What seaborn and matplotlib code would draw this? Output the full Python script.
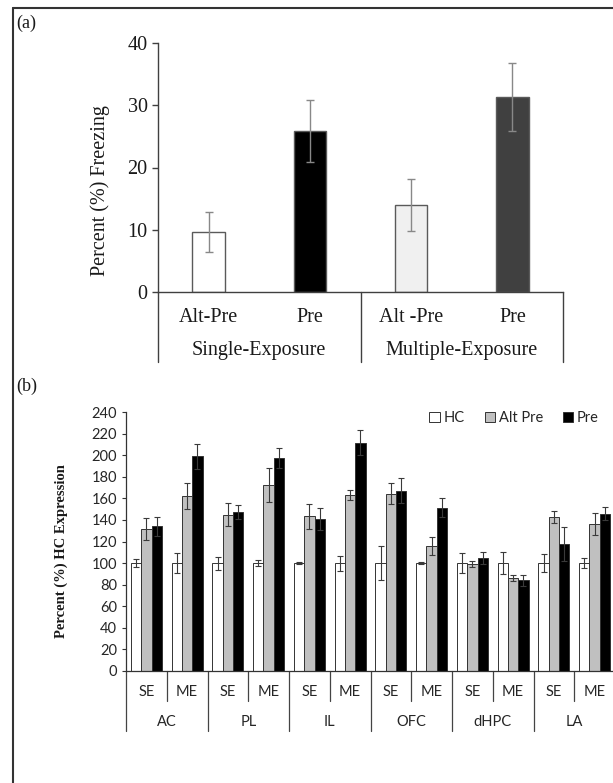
import numpy as np
import pandas as pd
import seaborn as sns
import matplotlib.pyplot as plt
from matplotlib.lines import Line2D
from matplotlib.transforms import blended_transform_factory

# ---- panel (a): freezing ----
a_keys = ["SE Alt-Pre", "SE Pre", "ME Alt-Pre", "ME Pre"]
a_ticklabels = ["Alt-Pre", "Pre", "Alt -Pre", "Pre"]
a_groups = ["Single-Exposure", "Multiple-Exposure"]
a_values = [9.6, 25.9, 14.0, 31.3]
a_err = [3.2, 5.0, 4.2, 5.5]
a_colors = ["#ffffff", "#000000", "#f0f0f0", "#404040"]

# ---- panel (b): c-fos expression ----
regions = ["AC", "PL", "IL", "OFC", "dHPC", "LA"]
exposures = ["SE", "ME"]
conditions = ["HC", "Alt Pre", "Pre"]
hc_vals = [100, 100, 100, 100, 100, 100, 100, 100, 100, 100, 100, 100]
hc_err = [4, 9.5, 6, 3, 1, 7, 15.5, 1, 9, 10, 8, 5]
alt_vals = [131.5, 162, 145, 172.5, 143.4, 163, 164.4, 116, 99, 86, 142.7, 136]
alt_err = [10.5, 12, 10.5, 15.5, 11.5, 5, 9.5, 8.5, 2.5, 3, 6, 10]
pre_vals = [134, 199, 147.5, 197.5, 141, 211.5, 167, 151.4, 105, 84, 117.6, 145.8]
pre_err = [8.5, 11.5, 6.5, 9, 10.5, 11.5, 11.5, 8.5, 5.5, 5, 15.5, 6]
b_colors = ["#ffffff", "#c0c0c0", "#000000"]

SANS = ["Lato", "DejaVu Sans"]


def main():
    sns.set_style("white")
    plt.rcParams["font.family"] = ["Liberation Serif", "DejaVu Serif"]

    W, H = 613, 783
    fig = plt.figure(figsize=(W / 100, H / 100), dpi=100)

    # outer frame (left and top border of the original composite)
    fig.add_artist(Line2D([13 / W, 13 / W], [0, 1 - 8 / H], color="#333333", lw=1.5))
    fig.add_artist(Line2D([13 / W, 1], [1 - 8 / H, 1 - 8 / H], color="#333333", lw=1.5))
    fig.text(16 / W, 1 - 23 / H, "(a)", fontsize=13, va="center", ha="left", color="#1a1a1a")
    fig.text(16 / W, 1 - 386 / H, "(b)", fontsize=13, va="center", ha="left", color="#1a1a1a")

    # ---------- panel (a) ----------
    ax = fig.add_axes([158 / W, 1 - 292 / H, (563 - 158) / W, (292 - 43) / H])
    df_a = pd.DataFrame({"key": a_keys, "value": a_values})
    sns.barplot(data=df_a, x="key", y="value", hue="key", palette=a_colors,
                legend=False, width=0.32, errorbar=None, ax=ax,
                edgecolor="#5a5a5a", linewidth=1.0)
    xs = [p.get_x() + p.get_width() / 2 for c in ax.containers for p in c]
    ax.errorbar(xs, a_values, yerr=a_err, fmt="none", ecolor="#888888",
                elinewidth=1.0, capsize=3, capthick=1.0)
    ax.set_xlim(-0.5, 3.5)
    ax.set_ylim(0, 40)
    ax.set_yticks([0, 10, 20, 30, 40])
    ax.set_ylabel("Percent (%) Freezing", fontsize=14.5, color="#1a1a1a")
    ax.yaxis.set_label_coords(-0.118, 0.406)
    ax.set_xlabel("")
    ax.set_xticks([])
    sns.despine(ax=ax)
    for s in ["left", "bottom"]:
        ax.spines[s].set_color("#404040")
        ax.spines[s].set_linewidth(1.0)
    ax.tick_params(axis="y", length=4, width=1.0, color="#404040",
                   labelsize=14.5, labelcolor="#1a1a1a", left=True)

    trans = blended_transform_factory(ax.transData, ax.transAxes)
    for x in [-0.5, 1.5, 3.5]:
        ax.plot([x, x], [0, -0.281], transform=trans, clip_on=False,
                color="#404040", lw=1.0)
    for i, lab in enumerate(a_ticklabels):
        ax.text(i, -0.104, lab, transform=trans, ha="center", va="center",
                fontsize=14.5, color="#1a1a1a")
    for i, lab in enumerate(a_groups):
        ax.text(2 * i + 0.5, -0.233, lab, transform=trans, ha="center",
                va="center", fontsize=14.5, color="#1a1a1a")

    # ---------- panel (b) ----------
    bx = fig.add_axes([126 / W, 1 - 671 / H, (615 - 126) / W, (671 - 412) / H])
    groups = [f"{r} {e}" for r in regions for e in exposures]
    df_b = pd.DataFrame({
        "group": groups * 3,
        "cond": np.repeat(conditions, len(groups)),
        "value": hc_vals + alt_vals + pre_vals,
    })
    sns.barplot(data=df_b, x="group", y="value", hue="cond", hue_order=conditions,
                palette=b_colors, width=0.76, errorbar=None, ax=bx,
                edgecolor="#333333", linewidth=0.7)
    for cont, vals, errs in zip(bx.containers, [hc_vals, alt_vals, pre_vals],
                                [hc_err, alt_err, pre_err]):
        cx = [p.get_x() + p.get_width() / 2 for p in cont]
        bx.errorbar(cx, vals, yerr=errs, fmt="none", ecolor="#3a3a3a",
                    elinewidth=0.8, capsize=2.5, capthick=0.8)
    bx.set_xlim(-0.5, 11.5)
    bx.set_ylim(0, 240)
    bx.set_yticks(range(0, 241, 20))
    bx.set_xticks([])
    bx.set_xlabel("")
    bx.set_ylabel("Percent (%) HC Expression", fontsize=10.5, fontweight="bold",
                  color="#1a1a1a")
    bx.yaxis.set_label_coords(-0.118, 0.463)
    sns.despine(ax=bx)
    for s in ["left", "bottom"]:
        bx.spines[s].set_color("#333333")
        bx.spines[s].set_linewidth(0.9)
    bx.tick_params(axis="y", length=3, width=0.8, color="#333333", left=True,
                   labelsize=10.5, labelcolor="#262626")
    for t in bx.get_yticklabels():
        t.set_family(SANS)

    trans_b = blended_transform_factory(bx.transData, bx.transAxes)
    for k in range(13):
        x = k - 0.5
        bottom = -0.232 if k % 2 == 0 else -0.116
        bx.plot([x, x], [0, bottom], transform=trans_b, clip_on=False,
                color="#444444", lw=0.9)
    for i, g in enumerate(groups):
        bx.text(i, -0.081, g.split()[1], transform=trans_b, ha="center",
                va="center", fontsize=10.5, family=SANS, color="#262626")
    for i, r in enumerate(regions):
        bx.text(2 * i + 0.5, -0.197, r, transform=trans_b, ha="center",
                va="center", fontsize=10.5, family=SANS, color="#262626")

    handles, labels = bx.get_legend_handles_labels()
    bx.legend(handles, labels, ncol=3, frameon=False, loc="center right",
              bbox_to_anchor=(0.994, 0.977), handlelength=0.7, handleheight=0.7,
              handletextpad=0.25, columnspacing=1.4,
              prop={"family": SANS, "size": 10.5})

    fig.savefig("out.png", dpi=100)


if __name__ == "__main__":
    main()
